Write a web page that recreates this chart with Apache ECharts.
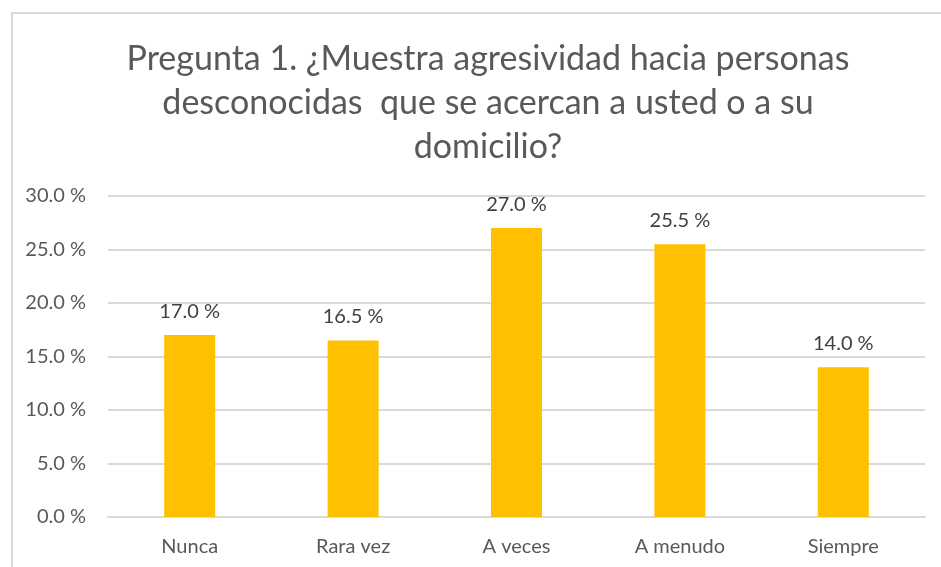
<!DOCTYPE html>
<html>
<head>
<meta charset="utf-8">
<style>
  html, body { margin: 0; padding: 0; background: #fff; }
  #frame { position: absolute; left: 11px; top: 12px; width: 1000px; height: 600px;
           border-top: 2px solid #d9d9d9; border-left: 2px solid #d9d9d9; }
  #chart { position: absolute; left: 0; top: 0; width: 941px; height: 567px; }
</style>
<script src="https://cdn.jsdelivr.net/npm/echarts@6/dist/echarts.min.js"></script>
</head>
<body>
<div id="frame"></div>
<div id="chart"></div>
<script>
  var categories = ['Nunca', 'Rara vez', 'A veces', 'A menudo', 'Siempre'];
  var values = [17.0, 16.5, 27.0, 25.5, 14.0];
  var yTicks = [0, 5, 10, 15, 20, 25, 30];

  var font = 'Lato, "Open Sans", sans-serif';
  var pct = function (v) { return v.toFixed(1) + ' %'; };

  var chart = echarts.init(document.getElementById('chart'));
  chart.setOption({
    animation: false,
    title: {
      text: 'Pregunta 1. ¿Muestra agresividad hacia personas\ndesconocidas  que se acercan a usted o a su\ndomicilio?',
      left: 483,
      top: 32,
      textAlign: 'center',
      textStyle: { fontFamily: font, fontSize: 34, fontWeight: 'normal', color: '#595959', lineHeight: 44 }
    },
    grid: { left: 108, right: 16, top: 196, bottom: 50 },
    xAxis: {
      type: 'category',
      data: categories,
      axisLine: { lineStyle: { color: '#d9d9d9', width: 2 } },
      axisTick: { show: false },
      axisLabel: { fontFamily: font, fontSize: 20, color: '#595959', margin: 20 }
    },
    yAxis: {
      type: 'value',
      min: yTicks[0],
      max: yTicks[yTicks.length - 1],
      interval: 5,
      axisLine: { show: false },
      axisTick: { show: false },
      splitLine: { lineStyle: { color: '#d9d9d9', width: 2 } },
      axisLabel: { fontFamily: font, fontSize: 20, color: '#595959', margin: 22, formatter: pct }
    },
    series: [{
      type: 'bar',
      data: values,
      barWidth: 51,
      itemStyle: { color: '#ffc000' },
      label: {
        show: true,
        position: 'top',
        distance: 14,
        fontFamily: font,
        fontSize: 20,
        color: '#404040',
        formatter: function (p) { return pct(p.value); }
      }
    }]
  });
</script>
</body>
</html>
